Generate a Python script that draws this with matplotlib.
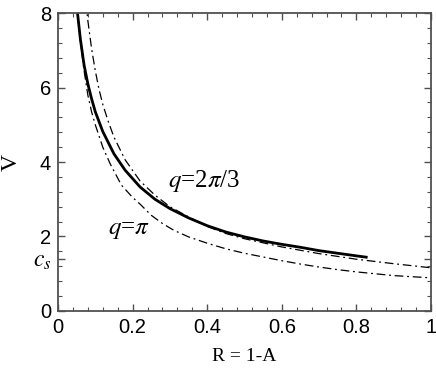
import matplotlib
matplotlib.use("Agg")
import matplotlib.pyplot as plt
from matplotlib.ticker import MultipleLocator

# solid curve
r_solid = [0.048, 0.06, 0.07, 0.08, 0.09, 0.10, 0.12, 0.15, 0.18, 0.22, 0.26,
           0.30, 0.35, 0.40, 0.45, 0.50, 0.55, 0.60, 0.65, 0.70, 0.75, 0.80, 0.83]
v_solid = [8.4, 7.3, 6.6, 6.1, 5.7, 5.35, 4.82, 4.22, 3.78, 3.33, 3.0,
           2.75, 2.5, 2.29, 2.12, 1.99, 1.88, 1.79, 1.71, 1.62, 1.55, 1.48, 1.44]

# q = 2pi/3 (upper dash-dot)
r_q23 = [0.075, 0.08, 0.09, 0.10, 0.11, 0.12, 0.135, 0.15, 0.18, 0.22, 0.26,
         0.30, 0.34, 0.40, 0.45, 0.50, 0.60, 0.70, 0.80, 0.90, 1.0]
v_q23 = [8.3, 7.8, 7.05, 6.45, 5.95, 5.55, 5.08, 4.67, 4.06, 3.49, 3.11,
         2.8, 2.58, 2.27, 2.08, 1.94, 1.72, 1.54, 1.39, 1.27, 1.16]

# q = pi (lower dash-dot)
r_qpi = [0.048, 0.06, 0.07, 0.08, 0.09, 0.10, 0.12, 0.14, 0.17, 0.20, 0.22,
         0.25, 0.28, 0.31, 0.35, 0.40, 0.45, 0.50, 0.55, 0.60, 0.65, 0.70,
         0.75, 0.80, 0.85, 0.90, 0.95, 1.0]
v_qpi = [8.4, 7.25, 6.45, 5.8, 5.35, 5.0, 4.4, 3.95, 3.38, 3.05, 2.87,
         2.57, 2.35, 2.17, 1.99, 1.82, 1.67, 1.55, 1.45, 1.35, 1.26, 1.18,
         1.11, 1.05, 1.0, 0.95, 0.92, 0.89]

cs = 1.40
x_ticks = [0, 0.2, 0.4, 0.6, 0.8, 1]
x_labels = ["0", "0.2", "0.4", "0.6", "0.8", "1"]
y_ticks = [0, 2, 4, 6, 8]

plt.rcParams['mathtext.fontset'] = 'stix'
sans = 'Liberation Sans'
serif = 'Liberation Serif'

fig = plt.figure(figsize=(4.36, 3.72), dpi=100)
ax = fig.add_axes([0.133, 0.164, 0.8555, 0.801])

dd = (0, (7, 3, 1.5, 3))
ax.plot(r_solid, v_solid, color='black', lw=2.0, solid_capstyle='butt')
ax.plot(r_q23, v_q23, color='black', lw=0.9, linestyle=dd)
ax.plot(r_qpi, v_qpi, color='black', lw=0.9, linestyle=dd)

ax.set_xlim(0, 1)
ax.set_ylim(0, 8)

ax.set_xticks(x_ticks)
ax.set_xticklabels(x_labels, fontfamily=sans, fontsize=14.5)
ax.set_yticks(y_ticks + [cs])
ax.set_yticklabels([str(t) for t in y_ticks] + ['$c_s$'], fontfamily=sans, fontsize=14.5)
ax.get_yticklabels()[-1].set_fontsize(17)
ax.xaxis.set_minor_locator(MultipleLocator(0.04))
ax.yaxis.set_minor_locator(MultipleLocator(0.4))

spine_col = '#505050'
ax.tick_params(which='both', direction='in', top=True, right=True, colors=spine_col,
               labelcolor='black')
ax.tick_params(which='major', length=5, width=1.0)
ax.tick_params(which='minor', length=3, width=0.8)
ax.tick_params(axis='x', pad=5)
ax.tick_params(axis='y', pad=5)
for s in ax.spines.values():
    s.set_color(spine_col)
    s.set_linewidth(1.3)

ax.set_xlabel('R = 1-A', fontfamily=serif, fontsize=14, labelpad=8)
ax.set_ylabel('V', fontfamily=serif, fontsize=17, labelpad=8)

ax.text(0.295, 3.33, '$q$=2$\\pi$/3', fontfamily=serif, fontsize=18)
ax.text(0.134, 2.07, '$q$=$\\pi$', fontfamily=serif, fontsize=18)

fig.savefig('out.png', dpi=100)
